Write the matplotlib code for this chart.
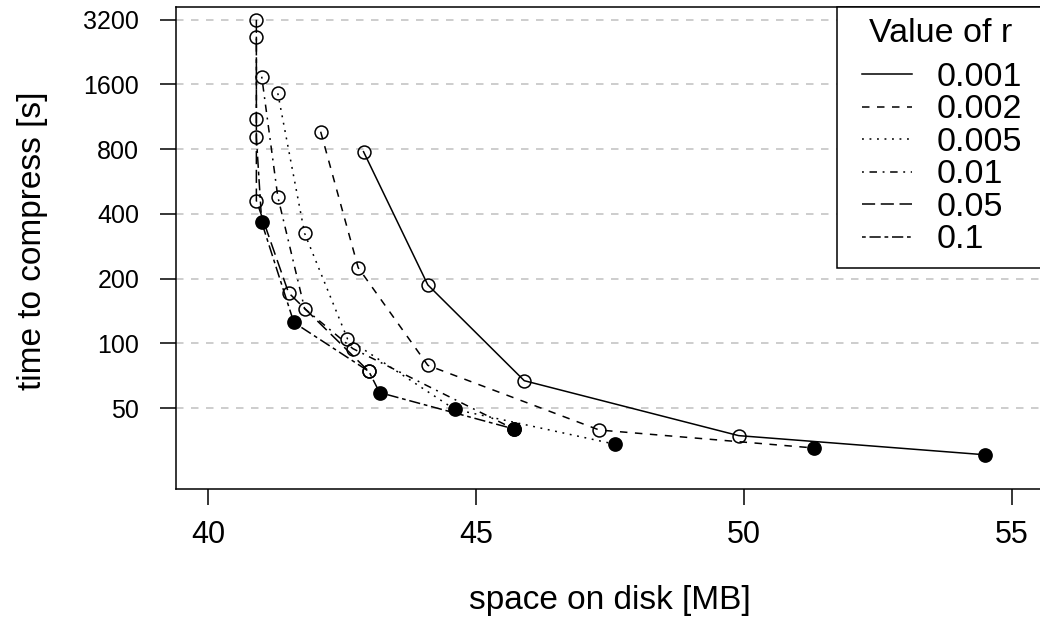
import matplotlib
matplotlib.use("Agg")
import matplotlib.pyplot as plt
from matplotlib.lines import Line2D
from matplotlib.patches import Rectangle
from matplotlib.ticker import FixedLocator, NullLocator

plt.rcParams['font.family'] = ['Liberation Sans', 'DejaVu Sans']
plt.rcParams['lines.scale_dashes'] = False

# values (space on disk [MB], time to compress [s])
r_labels = ['0.001', '0.002', '0.005', '0.01', '0.05', '0.1']

space_001 = [42.9, 44.1, 45.9, 49.9, 54.5]
time_001 = [779, 187, 67, 37.2, 30.3]
filled_001 = [0, 0, 0, 0, 1]

space_002 = [42.1, 42.8, 44.1, 47.3, 51.3]
time_002 = [965, 225, 79, 39.5, 32.6]
filled_002 = [0, 0, 0, 0, 1]

space_005 = [41.3, 41.8, 42.6, 44.6, 47.6]
time_005 = [1456, 325, 105, 49.3, 33.9]
filled_005 = [0, 0, 0, 1, 1]

space_01 = [41.0, 41.3, 41.8, 42.7, 45.7]
time_01 = [1739, 481, 145, 94.5, 40]
filled_01 = [0, 0, 0, 0, 1]

space_05 = [40.9, 40.9, 40.9, 41.5, 43.0]
time_05 = [3200, 1102, 461, 172, 74]
filled_05 = [0, 0, 0, 0, 0]

space_1 = [40.9, 40.9, 41.0, 41.6, 43.0, 43.2, 45.7]
time_1 = [2670, 909, 365, 125, 74, 59, 40]
filled_1 = [0, 0, 1, 1, 0, 1, 1]

x_ticks = [40, 45, 50, 55]
y_ticks = [50, 100, 200, 400, 800, 1600, 3200]

W, H = 1040, 626
fig = plt.figure(figsize=(W / 100, H / 100), dpi=100)

def fx(px): return px / W
def fy(py): return 1 - py / H

ax = fig.add_axes([fx(176), fy(489), fx(1044) - fx(176), fy(7) - fy(489)])

u = 1.35  # one R dash unit, in points
styles = ['-', (0, (4*u, 4*u)), (0, (1*u, 3*u)), (0, (1*u, 3*u, 4*u, 3*u)),
          (0, (7*u, 3*u)), (0, (2*u, 2*u, 6*u, 2*u))]
series = [(space_001, time_001, filled_001), (space_002, time_002, filled_002),
          (space_005, time_005, filled_005), (space_01, time_01, filled_01),
          (space_05, time_05, filled_05), (space_1, time_1, filled_1)]

lw = 1.1
for (xs, ys, fl), ls in zip(series, styles):
    ax.plot(xs, ys, color='black', lw=lw, linestyle=ls, zorder=3)
    ox = [x for x, f in zip(xs, fl) if not f]
    oy = [y for y, f in zip(ys, fl) if not f]
    ax.plot(ox, oy, 'o', ms=9.3, mfc='none', mec='black', mew=lw, zorder=4)
    cx = [x for x, f in zip(xs, fl) if f]
    cy = [y for y, f in zip(ys, fl) if f]
    ax.plot(cx, cy, 'o', ms=9.5, mfc='black', mec='black', mew=lw, zorder=4)

ax.set_yscale('log')
ax.set_xlim(39.4, 55.6)
ax.set_ylim(21.0, 3670)
ax.xaxis.set_major_locator(FixedLocator(x_ticks))
ax.yaxis.set_major_locator(FixedLocator(y_ticks))
ax.yaxis.set_minor_locator(NullLocator())
ax.set_xticklabels([str(t) for t in x_ticks])
ax.set_yticklabels([str(t) for t in y_ticks])
ax.grid(axis='y', color='#c0c0c0', lw=1.1, linestyle=(0, (4*u, 4*u)), zorder=1)
ax.set_axisbelow(True)

for s in ax.spines.values():
    s.set_linewidth(lw)
ax.tick_params(axis='both', direction='out', length=11.5, width=lw, color='black')
ax.tick_params(axis='x', labelsize=22, pad=11)
ax.tick_params(axis='y', labelsize=18, pad=15)

fig.text(fx(610), fy(600), 'space on disk [MB]', ha='center', va='center', fontsize=24)
fig.text(fx(33), fy(241), 'time to compress [s]', rotation=90,
         ha='center', va='center', fontsize=24)

# legend drawn by hand (R legend, topright, clipped by the image edge)
fig.add_artist(Rectangle((fx(837), fy(268)), fx(1044) - fx(837), fy(7) - fy(268),
                         transform=fig.transFigure, fc='white', ec='black', lw=lw, zorder=5))
fig.text(fx(940.5), fy(42), 'Value of r', ha='center', va='baseline', fontsize=24.5, zorder=6)
row_mid = [74, 106.6, 139.2, 171.8, 204.4, 237]
for lab, ls, ym in zip(r_labels, styles, row_mid):
    fig.add_artist(Line2D([fx(862), fx(912)], [fy(ym), fy(ym)], transform=fig.transFigure,
                          color='black', lw=lw, linestyle=ls, zorder=6))
    fig.text(fx(937), fy(ym + 11.5), lab, ha='left', va='baseline', fontsize=24.5, zorder=6)

fig.savefig('out.png', dpi=100)
